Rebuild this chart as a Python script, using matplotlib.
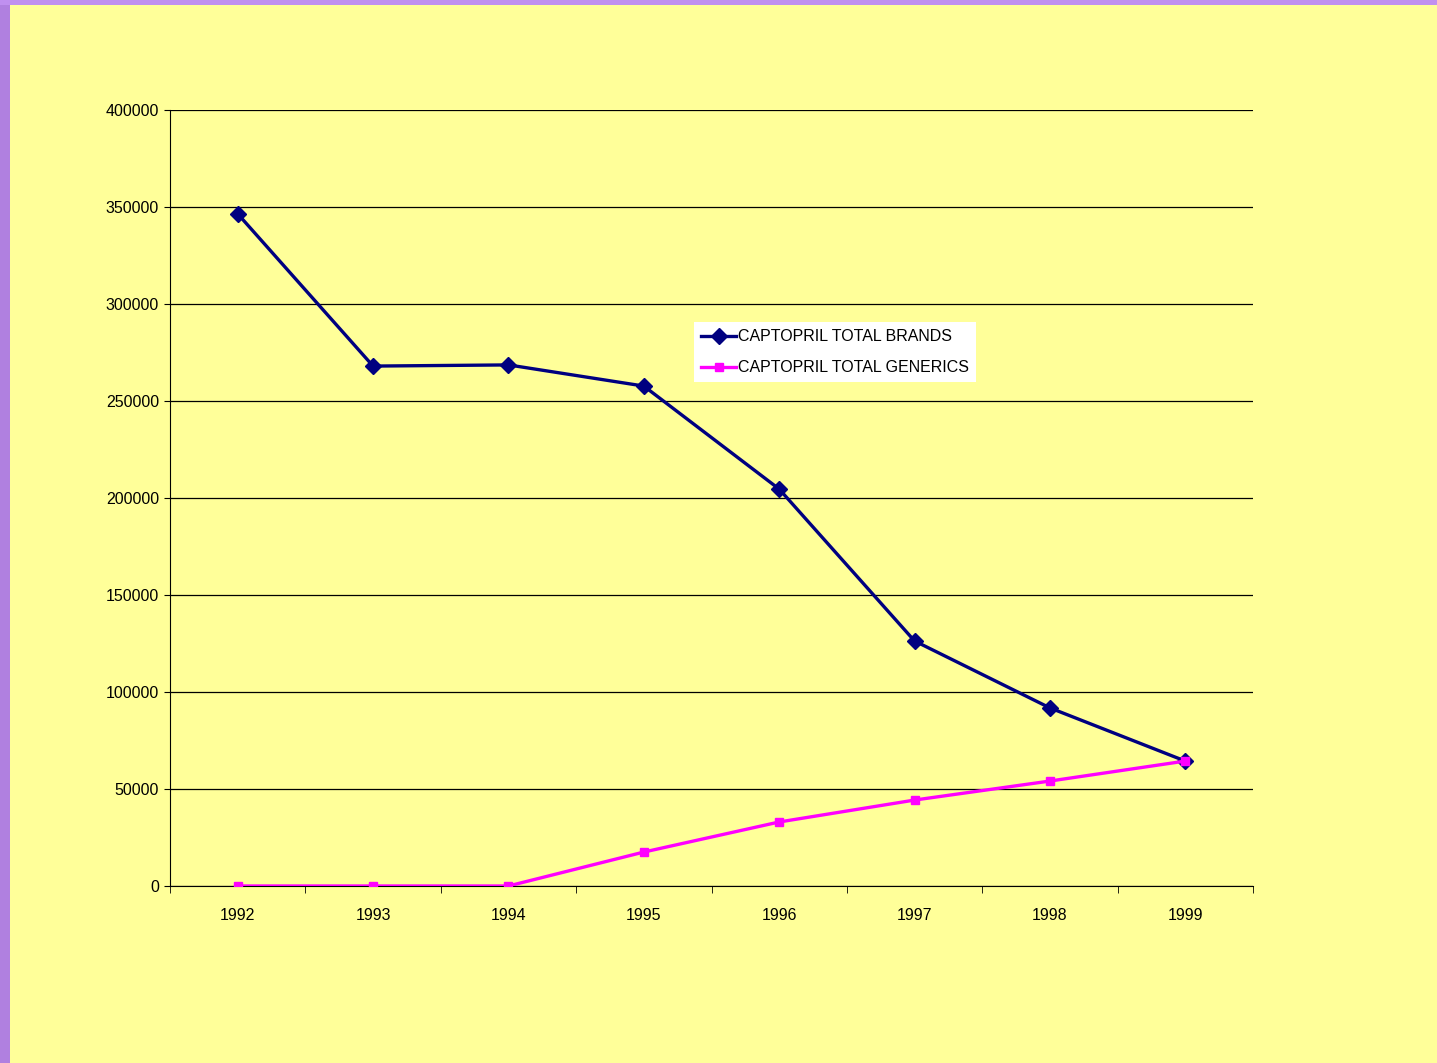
import numpy as np
import matplotlib.pyplot as plt
from matplotlib.patches import Rectangle

years = ['1992', '1993', '1994', '1995', '1996', '1997', '1998', '1999']
brands = [346500, 268000, 268600, 257700, 204600, 126300, 91800, 64400]
generics = [0, 0, 0, 17500, 33000, 44300, 54100, 64400]
yticks = [0, 50000, 100000, 150000, 200000, 250000, 300000, 350000, 400000]

plt.rcParams['font.family'] = ['Liberation Sans', 'DejaVu Sans']

fig = plt.figure(figsize=(14.37, 10.63), dpi=100)
fig.patch.set_facecolor('#ffff99')
# purple strips left and top of the slide
fig.patches.append(Rectangle((0, 0), 10 / 1437, 1, transform=fig.transFigure,
                             facecolor='#b080e0', edgecolor='none', zorder=-10))
fig.patches.append(Rectangle((0, 1 - 5 / 1063), 1, 5 / 1063, transform=fig.transFigure,
                             facecolor='#c090f0', edgecolor='none', zorder=-10))

ax = fig.add_axes([170 / 1437, 1 - 886 / 1063, (1253 - 170) / 1437, (886 - 110) / 1063])
ax.set_facecolor('#ffff99')
x = np.arange(len(years))

ax.plot(x, brands, color='#000080', lw=2.4, marker='D', ms=8, label='CAPTOPRIL TOTAL BRANDS', zorder=3)
ax.plot(x, generics, color='#ff00ff', lw=2.4, marker='s', ms=5.5, label='CAPTOPRIL TOTAL GENERICS', zorder=3)

ax.set_xlim(-0.5, len(years) - 0.5)
ax.set_ylim(0, 400000)
ax.set_yticks(yticks)
ax.set_yticklabels([str(v) for v in yticks], fontsize=11.5)
ax.set_xticks(x)
ax.set_xticklabels(years, fontsize=11.5)
ax.tick_params(axis='x', which='major', length=0, pad=16)
ax.set_xticks(np.arange(-0.5, len(years)), minor=True)
ax.tick_params(axis='x', which='minor', length=5, direction='out')
ax.tick_params(axis='y', length=4, direction='out', pad=4)
ax.grid(axis='y', color='black', lw=0.9)
ax.set_axisbelow(True)
for s in ['top', 'right']:
    ax.spines[s].set_visible(False)

leg = ax.legend(loc='upper left', bbox_to_anchor=((694 - 170) / 1083, (886 - 322) / 776),
                fontsize=11.5, frameon=True, fancybox=False, handlelength=2.2,
                handletextpad=0.1, borderpad=0.45, labelspacing=1.0, borderaxespad=0)
leg.get_frame().set_facecolor('white')
leg.get_frame().set_edgecolor('none')
leg.get_frame().set_alpha(1)

plt.savefig('out.png', dpi=100, facecolor=fig.get_facecolor())
